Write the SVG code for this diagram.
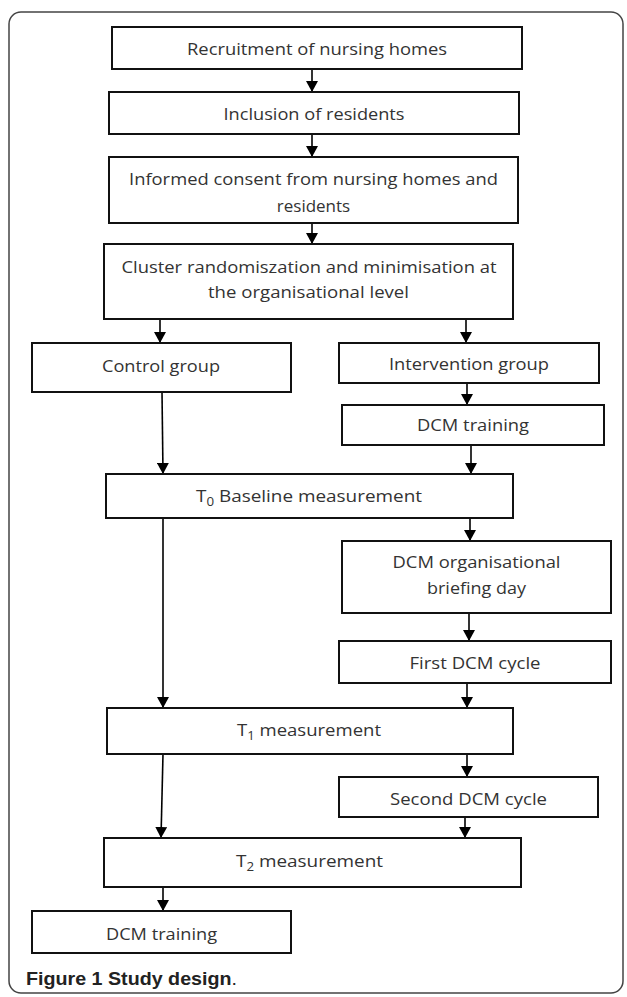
<svg xmlns="http://www.w3.org/2000/svg" width="627" height="997" viewBox="0 0 627 997">
  <defs>
    <marker id="ah" markerUnits="userSpaceOnUse" markerWidth="12" markerHeight="12" refX="11" refY="6" orient="auto">
      <path d="M0,0 L11,6 L0,12 z" fill="#000"/>
    </marker>
    <style>
      .box { fill: #fff; stroke: #111; stroke-width: 2; }
      .t { font-family: "Open Sans", "Liberation Sans", sans-serif; font-size: 17px; fill: #333; text-anchor: middle; }
      .sub { font-size: 12px; }
      .c { stroke: #000; stroke-width: 1.6; fill: none; marker-end: url(#ah); }
      .frame { fill: none; stroke: #444; stroke-width: 1.5; }
      .cap { font-family: "Liberation Sans", Arial, sans-serif; font-size: 18px; fill: #222; }
    </style>
  </defs>
  <rect width="627" height="997" fill="#fff"/>
  <rect class="frame" x="9" y="12" width="614" height="981" rx="12" ry="12"/>

  <g id="connectors">
    <line class="c" x1="312" y1="69" x2="312" y2="92"/>
    <line class="c" x1="312" y1="134" x2="312" y2="157"/>
    <line class="c" x1="312" y1="223" x2="312" y2="244"/>
    <line class="c" x1="160" y1="319" x2="160" y2="343"/>
    <line class="c" x1="466" y1="319" x2="466" y2="343"/>
    <line class="c" x1="467" y1="383" x2="467" y2="405"/>
    <line class="c" x1="162" y1="392" x2="163" y2="474"/>
    <line class="c" x1="471" y1="445" x2="471" y2="474"/>
    <line class="c" x1="470" y1="518" x2="470" y2="541"/>
    <line class="c" x1="163" y1="518" x2="163" y2="708"/>
    <line class="c" x1="469" y1="613" x2="469" y2="641"/>
    <line class="c" x1="467" y1="683" x2="467" y2="708"/>
    <line class="c" x1="467" y1="754" x2="467" y2="777"/>
    <line class="c" x1="163" y1="754" x2="161" y2="838"/>
    <line class="c" x1="465" y1="817" x2="465" y2="838"/>
    <line class="c" x1="163" y1="887" x2="163" y2="911"/>
  </g>

  <g id="recruitment">
    <rect class="box" x="112" y="27" width="410" height="42"/>
    <text class="t" x="317" y="55" textLength="260" lengthAdjust="spacingAndGlyphs">Recruitment of nursing homes</text>
  </g>
  <g id="inclusion">
    <rect class="box" x="109" y="92" width="410" height="42"/>
    <text class="t" x="314" y="120" textLength="181" lengthAdjust="spacingAndGlyphs">Inclusion of residents</text>
  </g>
  <g id="consent">
    <rect class="box" x="109" y="157" width="409" height="66"/>
    <text class="t" x="313.5" y="185" textLength="369" lengthAdjust="spacingAndGlyphs">Informed consent from nursing homes and</text>
    <text class="t" x="313.5" y="212">residents</text>
  </g>
  <g id="randomisation">
    <rect class="box" x="104" y="244" width="409" height="75"/>
    <text class="t" x="309" y="273" textLength="375" lengthAdjust="spacingAndGlyphs">Cluster randomiszation and minimisation at</text>
    <text class="t" x="308.5" y="298" textLength="201" lengthAdjust="spacingAndGlyphs">the organisational level</text>
  </g>
  <g id="control">
    <rect class="box" x="32" y="343" width="259" height="49"/>
    <text class="t" x="161" y="372" textLength="118" lengthAdjust="spacingAndGlyphs">Control group</text>
  </g>
  <g id="intervention">
    <rect class="box" x="339" y="343" width="260" height="40"/>
    <text class="t" x="469" y="370" textLength="160" lengthAdjust="spacingAndGlyphs">Intervention group</text>
  </g>
  <g id="dcm-training-1">
    <rect class="box" x="342" y="405" width="262" height="40"/>
    <text class="t" x="473" y="431" textLength="112" lengthAdjust="spacingAndGlyphs">DCM training</text>
  </g>
  <g id="t0">
    <rect class="box" x="106" y="474" width="407" height="44"/>
    <text class="t" x="309" y="502" textLength="226" lengthAdjust="spacingAndGlyphs">T<tspan class="sub" dy="4">0</tspan><tspan dy="-4"> Baseline measurement</tspan></text>
  </g>
  <g id="briefing">
    <rect class="box" x="342" y="541" width="269" height="72"/>
    <text class="t" x="476.5" y="568" textLength="168" lengthAdjust="spacingAndGlyphs">DCM organisational</text>
    <text class="t" x="476.5" y="594" textLength="99" lengthAdjust="spacingAndGlyphs">briefing day</text>
  </g>
  <g id="first-cycle">
    <rect class="box" x="339" y="641" width="272" height="42"/>
    <text class="t" x="475" y="669" textLength="131" lengthAdjust="spacingAndGlyphs">First DCM cycle</text>
  </g>
  <g id="t1">
    <rect class="box" x="107" y="708" width="406" height="46"/>
    <text class="t" x="309" y="736" textLength="144" lengthAdjust="spacingAndGlyphs">T<tspan class="sub" dy="4">1</tspan><tspan dy="-4"> measurement</tspan></text>
  </g>
  <g id="second-cycle">
    <rect class="box" x="339" y="777" width="259" height="40"/>
    <text class="t" x="468.5" y="805" textLength="157" lengthAdjust="spacingAndGlyphs">Second DCM cycle</text>
  </g>
  <g id="t2">
    <rect class="box" x="104" y="838" width="417" height="49"/>
    <text class="t" x="309.5" y="867" textLength="147" lengthAdjust="spacingAndGlyphs">T<tspan class="sub" dy="4">2</tspan><tspan dy="-4"> measurement</tspan></text>
  </g>
  <g id="dcm-training-2">
    <rect class="box" x="32" y="911" width="259" height="42"/>
    <text class="t" x="161.5" y="940" textLength="111" lengthAdjust="spacingAndGlyphs">DCM training</text>
  </g>

  <g id="caption">
    <text class="cap" x="26" y="985" textLength="211" lengthAdjust="spacingAndGlyphs"><tspan font-weight="bold">Figure 1 Study design</tspan>.</text>
  </g>
</svg>
